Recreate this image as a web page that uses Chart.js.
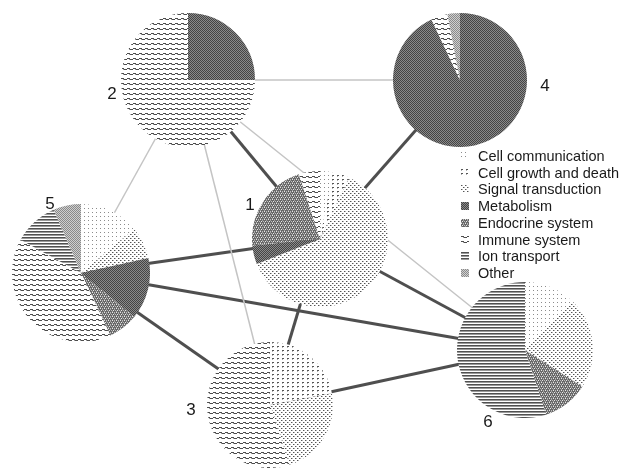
<!DOCTYPE html>
<html>
<head>
<meta charset="utf-8">
<script src="https://cdn.jsdelivr.net/npm/chart.js@4.4.1/dist/chart.umd.min.js"></script>
<style>
  html, body { margin: 0; padding: 0; background: #fff; }
  #stage { position: relative; width: 622px; height: 468px; overflow: hidden; background: #fff;
           font-family: "Liberation Sans", Arial, sans-serif; }
  #stage canvas { position: absolute; }
  .node-label { position: absolute; font-size: 17px; color: #1a1a1a; line-height: 1; transform: translate(-50%, -50%); }
  .legend-row { position: absolute; font-size: 14.5px; color: #1a1a1a; line-height: 1; white-space: nowrap; }
  .legend-row canvas { position: absolute; }
</style>
</head>
<body>
<div id="stage"></div>
<script>
// Functional categories, in the order the slices run clockwise from 12 o'clock
const categories = ['Cell communication', 'Cell growth and death', 'Signal transduction', 'Metabolism',
                    'Endocrine system', 'Immune system', 'Ion transport', 'Other'];
const nodeNames = ['1', '2', '3', '4', '5', '6'];

// Share (%) of each category for every node
const node1 = [3, 4, 62, 4.5, 21.5, 5, 0, 0];
const node2 = [0, 0, 0, 25, 0, 75, 0, 0];
const node3 = [0, 22, 23, 0, 0, 55, 0, 0];
const node4 = [0, 0, 0, 93, 0, 4, 0, 3];
const node5 = [14, 0, 7.5, 14.5, 7, 40, 10.5, 6.5];
const node6 = [12.5, 0, 21.5, 0, 11, 0, 55, 0];

// Links between nodes; strong links are drawn heavy
const edgeFrom   = ['2', '2', '2', '2', '2', '4', '5', '5', '5', '1', '1', '3'];
const edgeTo     = ['4', '6', '5', '3', '1', '1', '1', '6', '3', '3', '6', '6'];
const edgeStrong = [false, false, false, false, true, true, true, true, true, true, true, true];

const nodeValues = { '1': node1, '2': node2, '3': node3, '4': node4, '5': node5, '6': node6 };

// ---- layout (page geometry, separate from the data) ----
const W = 622, H = 468;
const layout = {
  '1': { x: 320, y: 239, r: 68, lx: 250, ly: 204 },
  '2': { x: 188, y: 80,  r: 67, lx: 112, ly: 93 },
  '3': { x: 270, y: 405, r: 63, lx: 191, ly: 409 },
  '4': { x: 460, y: 80,  r: 67, lx: 545, ly: 85 },
  '5': { x: 81,  y: 273, r: 69, lx: 50,  ly: 203 },
  '6': { x: 525, y: 350, r: 68, lx: 488, ly: 421 }
};

// ---- monochrome fill patterns ----
function makeTile(w, h, bg, pixels) {
  const c = document.createElement('canvas');
  c.width = w; c.height = h;
  const g = c.getContext('2d');
  g.fillStyle = bg; g.fillRect(0, 0, w, h);
  pixels.forEach(([x, y, col]) => { g.fillStyle = col; g.fillRect(x, y, 1, 1); });
  return c;
}
const tiles = [
  // Cell communication: sparse light dots
  makeTile(4, 4, '#ffffff', [[0, 0, '#8c8c8c']]),
  // Cell growth and death: rows of short dashes
  makeTile(5, 4, '#ffffff', [[0, 0, '#555'], [1, 0, '#555'], [0, 1, '#b0b0b0']]),
  // Signal transduction: staggered dot grid
  makeTile(4, 4, '#ffffff', [[0, 0, '#555'], [2, 2, '#555'], [1, 0, '#b4b4b4'], [3, 2, '#b4b4b4']]),
  // Metabolism: dark fine checker
  makeTile(2, 2, '#8a8a8a', [[0, 0, '#444'], [1, 1, '#444']]),
  // Endocrine system: mid-dark with light specks
  makeTile(4, 4, '#686868', [[0, 0, '#e6e6e6'], [2, 0, '#bcbcbc'], [1, 2, '#e6e6e6'], [3, 2, '#bcbcbc'],
                             [2, 1, '#a0a0a0'], [0, 3, '#a0a0a0']]),
  // Immune system: wavy rows
  makeTile(6, 5, '#ffffff', [[0, 0, '#4d4d4d'], [1, 0, '#4d4d4d'], [2, 0, '#4d4d4d'],
                             [2, 1, '#999'], [3, 1, '#4d4d4d'], [4, 1, '#4d4d4d'], [5, 1, '#4d4d4d']]),
  // Ion transport: horizontal lines
  makeTile(1, 3, '#ffffff', [[0, 0, '#505050'], [0, 1, '#9a9a9a']]),
  // Other: grey cross hatch
  makeTile(2, 2, '#cfcfcf', [[0, 0, '#8a8a8a'], [1, 1, '#8a8a8a']])
];

const stage = document.getElementById('stage');
function addCanvas(parent, w, h, left, top) {
  const c = document.createElement('canvas');
  c.width = w; c.height = h;
  c.style.left = left + 'px'; c.style.top = top + 'px';
  c.style.width = w + 'px'; c.style.height = h + 'px';
  parent.appendChild(c);
  return c;
}

// ---- links: a scatter chart spanning the whole page ----
const linkCanvas = addCanvas(stage, W, H, 0, 0);
const linkSets = edgeFrom.map((a, i) => {
  const b = edgeTo[i];
  return {
    data: [{ x: layout[a].x, y: layout[a].y }, { x: layout[b].x, y: layout[b].y }],
    showLine: true,
    borderColor: edgeStrong[i] ? '#4f4f4f' : '#c4c4c4',
    borderWidth: edgeStrong[i] ? 3 : 1.5,
    pointRadius: 0,
    pointHoverRadius: 0
  };
});
new Chart(linkCanvas, {
  type: 'scatter',
  data: { datasets: linkSets },
  options: {
    responsive: false, animation: false, devicePixelRatio: 1,
    layout: { padding: 0 },
    scales: {
      x: { type: 'linear', min: 0, max: W, display: false },
      y: { type: 'linear', min: 0, max: H, reverse: true, display: false }
    },
    plugins: { legend: { display: false }, tooltip: { enabled: false } }
  }
});

// ---- one pie per node ----
nodeNames.forEach(name => {
  const L = layout[name];
  const size = L.r * 2;
  const cv = addCanvas(stage, size, size, L.x - L.r, L.y - L.r);
  const g = cv.getContext('2d');
  const fills = tiles.map(t => g.createPattern(t, 'repeat'));
  new Chart(cv, {
    type: 'pie',
    data: {
      labels: categories,
      datasets: [{ data: nodeValues[name], backgroundColor: fills, borderWidth: 0,
                   offset: 0, hoverOffset: 0, spacing: 0 }]
    },
    options: {
      responsive: false, animation: false, devicePixelRatio: 1,
      layout: { padding: 0 },
      plugins: { legend: { display: false }, tooltip: { enabled: false } }
    }
  });
  const lab = document.createElement('div');
  lab.className = 'node-label';
  lab.textContent = name;
  lab.style.left = L.lx + 'px';
  lab.style.top = L.ly + 'px';
  stage.appendChild(lab);
});

// ---- legend ----
const legendLeft = 460, legendTop = 149, legendStep = 16.7;
categories.forEach((cat, i) => {
  const row = document.createElement('div');
  row.className = 'legend-row';
  row.style.left = legendLeft + 'px';
  row.style.top = (legendTop + i * legendStep) + 'px';
  const sw = document.createElement('canvas');
  sw.width = 8; sw.height = 8;
  sw.style.left = '1px'; sw.style.top = '3px';
  row.appendChild(sw);
  const sg = sw.getContext('2d');
  sg.fillStyle = sg.createPattern(tiles[i], 'repeat');
  sg.fillRect(0, 0, 8, 8);
  const txt = document.createElement('span');
  txt.textContent = cat;
  txt.style.marginLeft = '18px';
  row.appendChild(txt);
  stage.appendChild(row);
});
</script>
</body>
</html>
